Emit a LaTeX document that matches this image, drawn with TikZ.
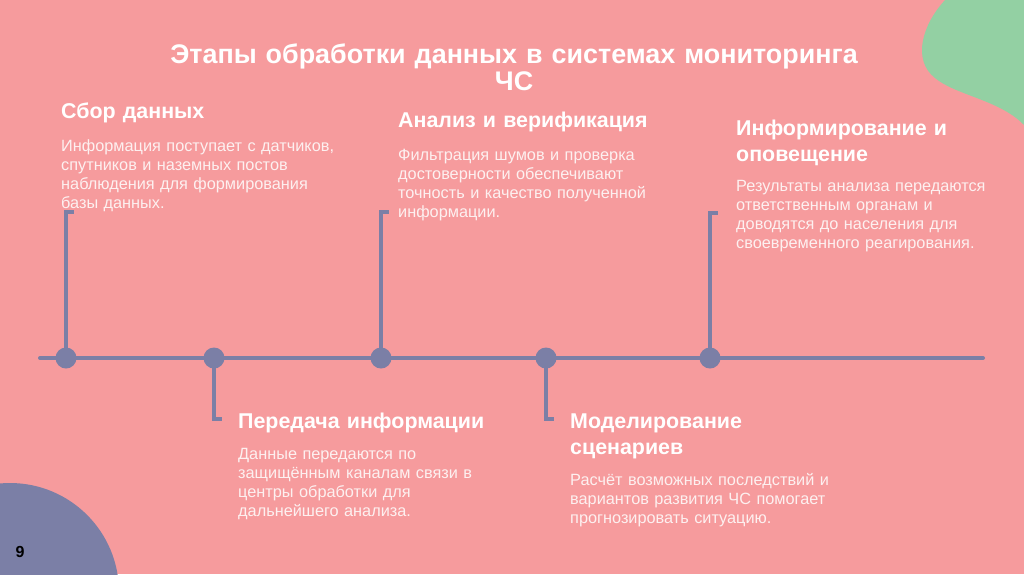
\documentclass[tikz,border=0pt]{standalone}
\usepackage{fontspec}
\setmainfont{Liberation Sans}
\definecolor{bg}{HTML}{F69B9D}
\definecolor{tl}{HTML}{7B7FA6}
\definecolor{blob}{HTML}{93D0A3}
\definecolor{desc}{HTML}{FDF0F0}
\begin{document}
\begin{tikzpicture}[x=1pt,y=-1pt,
  tline/.style={draw=tl,line width=4pt},
  dot/.style={circle,fill=tl,minimum size=21pt,inner sep=0pt},
  head/.style={anchor=base west,inner sep=0pt,text width=320pt,align=left,text=white,font=\fontsize{21.4}{26}\selectfont\bfseries},
  body/.style={anchor=base west,inner sep=0pt,text width=320pt,align=left,text=desc,font=\fontsize{16.3}{19.3}\selectfont},
  ttl/.style={anchor=base,inner sep=0pt,text width=800pt,align=center,text=white,font=\fontsize{26.9}{27}\selectfont\bfseries}]
\useasboundingbox (0,0) rectangle (1024,574);
\fill[bg] (0,0) rectangle (1024,574);
% decorative shapes
\fill[blob] (945,0) .. controls (922,25) and (912,60) .. (935,78)
  .. controls (955,95) and (1000,100) .. (1024,125) -- (1024,0) -- cycle;
\begin{scope}
\clip (0,0) rectangle (1024,574);
\fill[tl] (10,592) circle[radius=109];
\end{scope}
\node[anchor=base,inner sep=0pt,font=\fontsize{16}{18}\selectfont\bfseries,text=black] (pg) at (20,557) {9};
% title
\node[ttl] (title) at (514,63) {Этапы обработки данных в системах мониторинга\\ЧС};
% timeline
\coordinate (L) at (40,358);
\coordinate (R) at (983,358);
\draw[tline,line cap=round] (L) -- (R);
\node[dot] (d1) at (66,358) {};
\node[dot] (d2) at (214,358) {};
\node[dot] (d3) at (381,358) {};
\node[dot] (d4) at (546,358) {};
\node[dot] (d5) at (710,358) {};
\coordinate (t1) at (66,212);
\coordinate (t2) at (214,419);
\coordinate (t3) at (381,212);
\coordinate (t4) at (546,419);
\coordinate (t5) at (710,213);
\draw[tline] (d1.center) -- (t1) -- ++(8,0);
\draw[tline] (d2.center) -- (t2) -- ++(8,0);
\draw[tline] (d3.center) -- (t3) -- ++(8,0);
\draw[tline] (d4.center) -- (t4) -- ++(8,0);
\draw[tline] (d5.center) -- (t5) -- ++(8,0);
% blocks
\node[head] (h1) at (61,118) {Сбор данных};
\node[body] (b1) at (61,151) {Информация поступает с датчиков,\\спутников и наземных постов\\наблюдения для формирования\\базы данных.};
\node[head] (h3) at (398,127) {Анализ и верификация};
\node[body] (b3) at (398,160) {Фильтрация шумов и проверка\\достоверности обеспечивают\\точность и качество полученной\\информации.};
\node[head] (h5) at (736,135) {Информирование и\\оповещение};
\node[body] (b5) at (736,191) {Результаты анализа передаются\\ответственным органам и\\доводятся до населения для\\своевременного реагирования.};
\node[head] (h2) at (238,428) {Передача информации};
\node[body] (b2) at (238,459) {Данные передаются по\\защищённым каналам связи в\\центры обработки для\\дальнейшего анализа.};
\node[head] (h4) at (570,428) {Моделирование\\сценариев};
\node[body] (b4) at (570,485) {Расчёт возможных последствий и\\вариантов развития ЧС помогает\\прогнозировать ситуацию.};
\end{tikzpicture}
\end{document}
